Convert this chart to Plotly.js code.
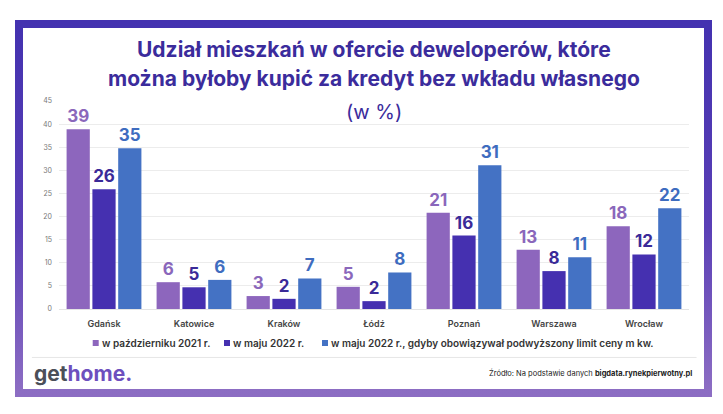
<!DOCTYPE html>
<html>
<head>
<meta charset="utf-8">
<script src="https://cdn.plot.ly/plotly-3.0.1.min.js"></script>
<style>
html,body{margin:0;padding:0;background:#fff;}
#wrap{position:relative;width:723px;height:414px;overflow:hidden;}
#frame{position:absolute;left:15px;top:20px;width:697px;height:377px;box-sizing:border-box;
  border:8px solid transparent;border-image:linear-gradient(180deg,#4432b0 0%,#5a3fb6 55%,#8c6dc3 100%) 1;}
#chart{position:absolute;left:0;top:0;width:723px;height:414px;}
</style>
</head>
<body>
<div id="wrap">
<div id="frame"></div>
<div id="chart"></div>
</div>
<script>
const cities = ["Gdańsk","Katowice","Kraków","Łódź","Poznań","Warszawa","Wrocław"];
const oct2021 = [38.9, 5.8, 2.8, 4.8, 20.8, 12.8, 17.9];
const may2022 = [25.9, 4.7, 2.2, 1.7, 15.9, 8.2, 11.8];
const may2022Limit = [34.8, 6.3, 6.6, 7.9, 31.1, 11.2, 21.8];
const seriesNames = ["w październiku 2021 r.", "w maju 2022 r.", "w maju 2022 r., gdyby obowiązywał podwyższony limit ceny m kw."];
const yTicks = [0,5,10,15,20,25,30,35,40,45];

const barColors = ["#8d66bd", "#4530b0", "#4472c4"];
const textColors = ["#8a67bb", "#3a2a98", "#3e6cbf"];
const FONT = "Inter, 'Open Sans', sans-serif";

const seriesData = [oct2021, may2022, may2022Limit];
const traces = seriesData.map((vals, i) => ({
  type: "bar",
  name: seriesNames[i],
  x: cities,
  y: vals,
  marker: {color: barColors[i]},
  texttemplate: "%{y:.0f}",
  textposition: "outside",
  cliponaxis: false,
  textfont: {family: FONT, size: 17, weight: 700, color: textColors[i]},
  hoverinfo: "x+y"
}));

// custom legend (small squares, as in the reference)
const legendX = [0.0535, 0.2619, 0.4175];
const legendY = -0.1635;
const sq = 6 / 630, sqH = 6 / 208;
const legendShapes = legendX.map((x, i) => ({
  type: "rect", xref: "paper", yref: "paper",
  x0: x, x1: x + sq, y0: legendY - sqH / 2, y1: legendY + sqH / 2,
  fillcolor: barColors[i], line: {width: 0}
}));
const legendAnn = legendX.map((x, i) => ({
  text: seriesNames[i], xref: "paper", yref: "paper",
  x: x + sq + 1 / 630, y: legendY, xanchor: "left", yanchor: "middle", showarrow: false,
  font: {family: FONT, size: 10, weight: 600, color: "#333"}
}));

const layout = {
  width: 723, height: 414,
  margin: {l: 59, r: 34, t: 101, b: 105},
  paper_bgcolor: "rgba(0,0,0,0)",
  plot_bgcolor: "rgba(0,0,0,0)",
  barmode: "group",
  bargap: 0.14,
  bargroupgap: 0.1,
  font: {family: FONT, color: "#444"},
  showlegend: false,
  xaxis: {
    tickfont: {family: FONT, size: 9, weight: 600, color: "#444"},
    showline: false, ticks: "", showgrid: false, ticklabelstandoff: 8
  },
  yaxis: {
    range: [0, 45], tickvals: yTicks, ticktext: yTicks.map(String),
    tickfont: {family: FONT, size: 7, color: "#777"},
    gridcolor: "#ececec", gridwidth: 1, zeroline: true, zerolinecolor: "#e4e4e4",
    showline: false, ticks: "", ticklabelstandoff: 6
  },
  annotations: [
    {text: "Udział mieszkań w ofercie deweloperów, które", xref: "paper", yref: "paper",
     x: 0.5, y: 1.25, xanchor: "center", yanchor: "middle", showarrow: false,
     font: {family: FONT, size: 21, weight: 700, color: "#3b2c9c"}},
    {text: "można byłoby kupić za kredyt bez wkładu własnego", xref: "paper", yref: "paper",
     x: 0.5, y: 1.11, xanchor: "center", yanchor: "middle", showarrow: false,
     font: {family: FONT, size: 21, weight: 700, color: "#3b2c9c"}},
    {text: "(w %)", xref: "paper", yref: "paper",
     x: 0.5, y: 0.945, xanchor: "center", yanchor: "middle", showarrow: false,
     font: {family: FONT, size: 20, weight: 400, color: "#3b2c9c"}},
    {text: "<span style='color:#4b4f58'>get</span><span style='color:#6d4fbe'>home.</span>", xref: "paper", yref: "paper",
     x: -0.043, y: -0.308, xanchor: "left", yanchor: "middle", showarrow: false,
     font: {family: FONT, size: 21, weight: 700}},
    {text: "Źródło: Na podstawie danych <b>bigdata.rynekpierwotny.pl</b>", xref: "paper", yref: "paper",
     x: 1.008, y: -0.308, xanchor: "right", yanchor: "middle", showarrow: false,
     font: {family: FONT, size: 7.5, color: "#222"}}
  ].concat(legendAnn),
  shapes: [
    {type: "line", xref: "paper", yref: "paper", x0: -0.043, x1: 1.012, y0: -0.233, y1: -0.233,
     line: {color: "#e6e6e6", width: 1}}
  ].concat(legendShapes)
};

Plotly.newPlot("chart", traces, layout, {displayModeBar: false, staticPlot: true});
</script>
</body>
</html>
